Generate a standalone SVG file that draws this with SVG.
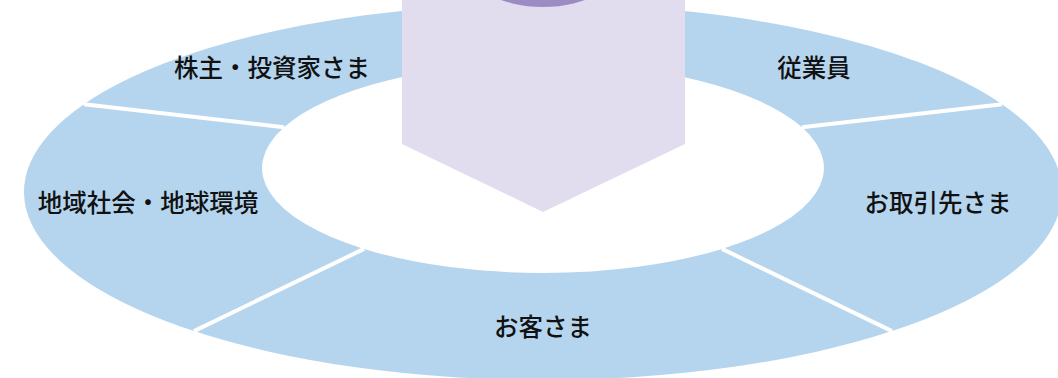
<svg xmlns="http://www.w3.org/2000/svg" width="1058" height="378" viewBox="0 0 1058 378">
<style>
.seg{fill:#B5D5EF;stroke:none}
.lbl{font-family:"Noto Sans CJK JP","Noto Sans",sans-serif;font-size:24.5px;font-weight:500;fill:#111;text-anchor:middle}
.div{stroke:#FFFFFF;stroke-width:4;fill:none}
</style>
<rect width="1058" height="378" fill="#FFFFFF"/>
<g id="node-shareholders">
<path class="seg" d="M84,104.2 A519,188 0 0 1 543,4 L543,63 A281,105 0 0 0 284,127.3 Z"/>
<text class="lbl" x="272" y="77">株主・投資家さま</text>
</g>
<g id="node-employees">
<path class="seg" d="M543,4 A519,188 0 0 1 1002,104.2 L802,127.3 A281,105 0 0 0 543,63 Z"/>
<text class="lbl" x="814" y="77">従業員</text>
</g>
<g id="node-partners">
<path class="seg" d="M1002,104.2 A519,188 0 0 1 892,331.1 L722,248.9 A281,105 0 0 0 802,127.3 Z"/>
<text class="lbl" x="938" y="212">お取引先さま</text>
</g>
<g id="node-customers">
<path class="seg" d="M892,331.1 A519,188 0 0 1 194,331.1 L364,248.9 A281,105 0 0 0 722,248.9 Z"/>
<text class="lbl" x="543" y="336">お客さま</text>
</g>
<g id="node-community">
<path class="seg" d="M194,331.1 A519,188 0 0 1 84,104.2 L284,127.3 A281,105 0 0 0 364,248.9 Z"/>
<text class="lbl" x="148" y="212">地域社会・地球環境</text>
</g>
<g id="connectors">
<line class="div" x1="84" y1="104.2" x2="284" y2="127.3"/>
<line class="div" x1="1002" y1="104.2" x2="802" y2="127.3"/>
<line class="div" x1="194" y1="331.1" x2="364" y2="248.9"/>
<line class="div" x1="892" y1="331.1" x2="722" y2="248.9"/>
</g>
<g id="node-center">
<polygon points="402,-5 685,-5 685,144 543,212 402,144" fill="#E1DDEE"/>
<ellipse cx="543" cy="-40" rx="80" ry="47" fill="#9B8DC3"/>
</g>
</svg>
